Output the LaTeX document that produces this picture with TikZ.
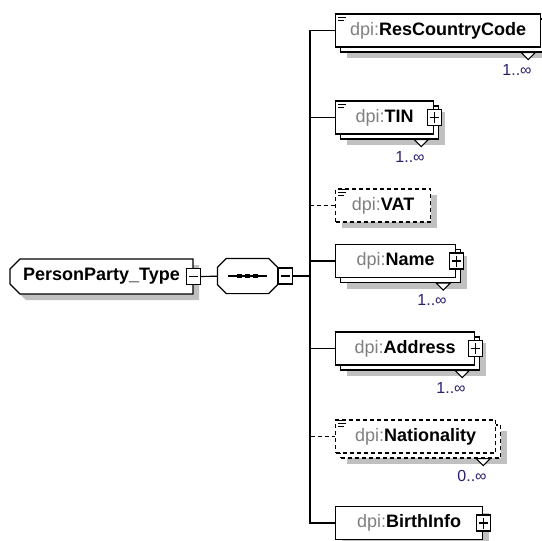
\documentclass[tikz,border=0pt]{standalone}
\usepackage{fontspec}
\setmainfont{Liberation Sans}
\usetikzlibrary{positioning,shapes.misc,shadows}

\definecolor{pfxgray}{RGB}{128,128,128}
\definecolor{shadowgray}{RGB}{192,192,192}
\definecolor{occblue}{RGB}{45,30,105}

\newcommand\pfx{\textcolor{pfxgray}{dpi:}}
% occurrence mark under a repeated element
\newcommand\occurs[2]{%
  \draw[tri] ([shift={(-20,5)}]#1.south east) -- ++(7,7) -- ++(7,-7) -- cycle;
  \node (#1occ) [occ, anchor=north east] at ([shift={(-9,16)}]#1.south east) {#2};}
% documentation icon
\newcommand\docicon[1]{%
  \foreach \k/\len in {0/8,1/8,2/6}
    \draw[line width=1pt] ([shift={(3,1.5+3*\k)}]#1.north west) -- ++(\len,0);}
% octagon round a compositor node
\newcommand\octpath[1]{([shift={(9,0)}]#1.north west) -- ([shift={(-9,0)}]#1.north east)
  -- ([shift={(0,9)}]#1.north east) -- ([shift={(0,-9)}]#1.south east)
  -- ([shift={(-9,0)}]#1.south east) -- ([shift={(9,0)}]#1.south west)
  -- ([shift={(0,-9)}]#1.south west) -- ([shift={(0,9)}]#1.north west) -- cycle}

\tikzset{
  box/.style={draw, fill=white, line width=1.2pt, minimum height=33pt, inner sep=0pt, font=\fontsize{18}{20}\selectfont},
  single/.style={box, drop shadow={shadow xshift=6pt, shadow yshift=-6pt, fill=shadowgray, opacity=1}},
  multi/.style={box, drop shadow={shadow xshift=11pt, shadow yshift=-11pt, fill=shadowgray, opacity=1}, copy shadow={shadow xshift=5pt, shadow yshift=-5pt}},
  optional/.style={dash pattern=on 4pt off 3pt},
  sign/.style={draw, fill=white, line width=1.2pt, minimum width=14pt, minimum height=16pt, inner sep=0pt},
  minus/.style={sign, path picture={\draw[line width=1.2pt] ([xshift=2.5pt]path picture bounding box.west) -- ([xshift=-2.5pt]path picture bounding box.east);}},
  plus/.style={sign, path picture={\draw[line width=1.2pt] ([xshift=2.5pt]path picture bounding box.west) -- ([xshift=-2.5pt]path picture bounding box.east) ([yshift=-2.5pt]path picture bounding box.north) -- ([yshift=2.5pt]path picture bounding box.south);}},
  tri/.style={draw, fill=white, line width=1.1pt},
  occ/.style={text=occblue, inner sep=0pt, font=\fontsize{16}{18}\selectfont},
}

\begin{document}
\begin{tikzpicture}[x=1pt, y=-1pt, line width=1.2pt]
\useasboundingbox (0,0) rectangle (542,541);
\clip (0,0) rectangle (542,541);

% complex type and its sequence
\node (root) [chamfered rectangle, chamfered rectangle corners={north west,south west}, chamfered rectangle xsep=5pt, chamfered rectangle ysep=5pt, single, minimum width=183pt, minimum height=35pt] at (101.5,276.5) {\textbf{PersonParty\_Type}\hspace{12pt}};
\node (rootm) [minus] at (root.east) {};
\node (seq) [minimum width=59pt, minimum height=34pt, inner sep=0pt] at (247.5,276) {};
\fill[shadowgray, xshift=6pt, yshift=-6pt] \octpath{seq};
\draw[fill=white] \octpath{seq};
\node (seqm) [minus, anchor=west] at (seq.east) {};
\coordinate (split) at (310,276);

\draw ([xshift=-19.5pt]seq.center) -- ([xshift=19.5pt]seq.center);
\foreach \d in {-8,0,8}
  \fill ([xshift=\d pt]seq.center) +(-2.3,-2.3) rectangle +(2.3,2.3);

% child elements
\node (rcc) [multi, minimum width=205pt, anchor=west] at (335,30.5) {\pfx\textbf{ResCountryCode}};
\node (tin) [multi, minimum width=98pt, anchor=west] at (335,117.5) {\pfx\textbf{TIN}};
\node (vat) [single, optional, minimum width=95pt, anchor=west] at (335,205.5) {\pfx\textbf{VAT}};
\node (name) [multi, minimum width=120pt, anchor=west] at (335,261) {\pfx\textbf{Name}};
\node (addr) [multi, minimum width=139pt, anchor=west] at (335,348.5) {\pfx\textbf{Address}};
\node (nat) [multi, optional, minimum width=160pt, anchor=west] at (335,436.5) {\pfx\textbf{Nationality}};
\node (birth) [single, minimum width=147pt, anchor=west] at (335,523) {\pfx\textbf{BirthInfo}};

\node (tinp) [plus] at (tin.east) {};
\node (namep) [plus] at (name.east) {};
\node (addrp) [plus] at (addr.east) {};
\node (birthp) [plus] at (birth.east) {};

\occurs{rcc}{1..∞}
\occurs{tin}{1..∞}
\occurs{name}{1..∞}
\occurs{addr}{1..∞}
\occurs{nat}{0..∞}

\docicon{rcc}
\docicon{tin}
\docicon{vat}
\docicon{nat}

% connectors
\draw (rootm) -- (seq);
\draw (seqm) -- (split);
\foreach \c in {rcc,tin,name,addr,birth}
  \draw (split) |- (\c);
\foreach \c in {vat,nat}
  \draw[optional] (split) |- (\c);
\end{tikzpicture}
\end{document}
